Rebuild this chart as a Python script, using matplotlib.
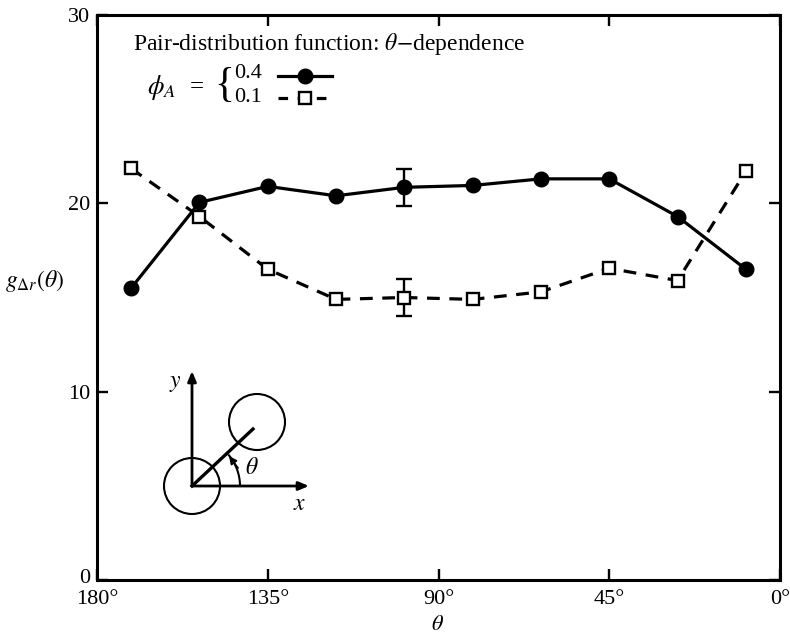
import numpy as np
import matplotlib
matplotlib.use("Agg")
import matplotlib.pyplot as plt
import matplotlib.transforms as mtransforms
from matplotlib.patches import Circle, Arc

plt.rcParams['font.family'] = ['Liberation Serif', 'DejaVu Serif']
plt.rcParams['mathtext.fontset'] = 'stix'

# Angle theta (degrees) of each measurement
theta = [171, 153, 135, 117, 99, 81, 63, 45, 27, 9]
# g_{Δr}(θ) for phi_A = 0.4 and phi_A = 0.1
g_04 = [15.5, 20.05, 20.9, 20.4, 20.85, 20.95, 21.3, 21.3, 19.3, 16.5]
g_01 = [21.85, 19.3, 16.5, 14.9, 15.0, 14.9, 15.3, 16.55, 15.9, 21.7]
# Error bars at theta = 99
err_theta = 99
err_04 = 0.98
err_01 = 0.98

x_ticks = [180, 135, 90, 45, 0]
x_ticklabels = ['180°', '135°', '90°', '45°', '0°']
y_ticks = [0, 10, 20, 30]

W, H = 790, 638
fig = plt.figure(figsize=(W / 100, H / 100), dpi=100)
ax = fig.add_axes([97 / W, 1 - 580 / H, (780 - 97) / W, (580 - 15) / H])

ax.plot(theta, g_04, '-', color='black', lw=2.3, marker='o', ms=10.5,
        mfc='black', mec='black', zorder=3)
ax.plot(theta, g_01, '--', color='black', lw=2.3, dashes=(4, 3), marker='s',
        ms=8.5, mfc='white', mec='black', mew=1.7, zorder=3)

i = theta.index(err_theta)
ax.errorbar([err_theta], [g_04[i]], yerr=err_04, fmt='none', ecolor='black',
            elinewidth=1.7, capsize=6, capthick=1.7, zorder=2)
ax.errorbar([err_theta], [g_01[i]], yerr=err_01, fmt='none', ecolor='black',
            elinewidth=1.7, capsize=6, capthick=1.7, zorder=2)

ax.set_xlim(180, 0)
ax.set_ylim(0, 30)
ax.set_xticks(x_ticks)
ax.set_xticklabels(x_ticklabels)
ax.set_yticks(y_ticks)
ax.tick_params(direction='in', length=8, width=1.7, labelsize=16,
               top=True, right=True)
ax.tick_params(axis='x', pad=7)
ax.tick_params(axis='y', pad=5)
for s in ax.spines.values():
    s.set_linewidth(2.2)

# lift the "0" label slightly off the x axis
zero_lbl = ax.get_yticklabels()[0]
zero_lbl.set_transform(zero_lbl.get_transform() +
                       mtransforms.ScaledTranslation(0, 4 / 100, fig.dpi_scale_trans))

fig.text(438 / W, 1 - 626 / H, r'$\theta$', fontsize=16, ha='center', va='center')
fig.text(5 / W, 1 - 281 / H, r'$g_{\Delta r}(\theta)$', fontsize=17,
         ha='left', va='center')

# Title and legend block
fig.text(133 / W, 1 - 44 / H, r'Pair-distribution function: $\theta$$-$dependence',
         fontsize=17, ha='left', va='center')
fig.text(147 / W, 1 - 88 / H, r'$\phi_A$', fontsize=19, ha='left', va='center')
fig.text(197 / W, 1 - 87 / H, '=', fontsize=18, ha='center', va='center')
fig.text(224 / W, 1 - 86 / H, '{', fontsize=30, ha='center', va='center')
fig.text(234 / W, 1 - 74 / H, '0.4', fontsize=16, ha='left', va='center')
fig.text(234 / W, 1 - 98 / H, '0.1', fontsize=16, ha='left', va='center')

leg = fig.add_axes([0, 0, 1, 1], facecolor='none')
leg.set_xlim(0, W)
leg.set_ylim(H, 0)
leg.axis('off')
leg.plot([278, 332], [76, 76], '-', color='black', lw=2.3)
leg.plot([305], [76], 'o', color='black', ms=10.5)
leg.plot([278, 332], [98, 98], '--', color='black', lw=2.3, dashes=(3, 3))
leg.plot([305], [98], 's', mfc='white', mec='black', ms=8.5, mew=1.7)

# Inset sketch of the pair geometry
ox, oy = 192, 486
leg.add_patch(Circle((ox, oy), 28, fill=False, lw=1.5, color='black'))
leg.add_patch(Circle((257, 422), 28, fill=False, lw=1.5, color='black'))
leg.plot([ox, 253], [oy, 429], color='black', lw=2.4)
leg.annotate('', xy=(ox, 371), xytext=(ox, oy),
             arrowprops=dict(arrowstyle='-|>,head_length=0.6,head_width=0.25',
                             color='black', lw=2.0, shrinkA=0, shrinkB=0))
leg.annotate('', xy=(309, oy), xytext=(ox, oy),
             arrowprops=dict(arrowstyle='-|>,head_length=0.6,head_width=0.25',
                             color='black', lw=2.0, shrinkA=0, shrinkB=0))
leg.add_patch(Arc((ox, oy), 96, 96, angle=0, theta1=-41, theta2=0,
                  lw=1.5, color='black'))
leg.annotate('', xy=(229, 456), xytext=(238, 468),
             arrowprops=dict(arrowstyle='-|>,head_length=0.45,head_width=0.22',
                             color='black', lw=1.3, shrinkA=0, shrinkB=0))
leg.text(252, 468, r'$\theta$', fontsize=17, ha='center', va='center')
leg.text(175, 384, r'$y$', fontsize=17, ha='center', va='center')
leg.text(300, 504, r'$x$', fontsize=17, ha='center', va='center')

fig.savefig('out.png', dpi=100)
